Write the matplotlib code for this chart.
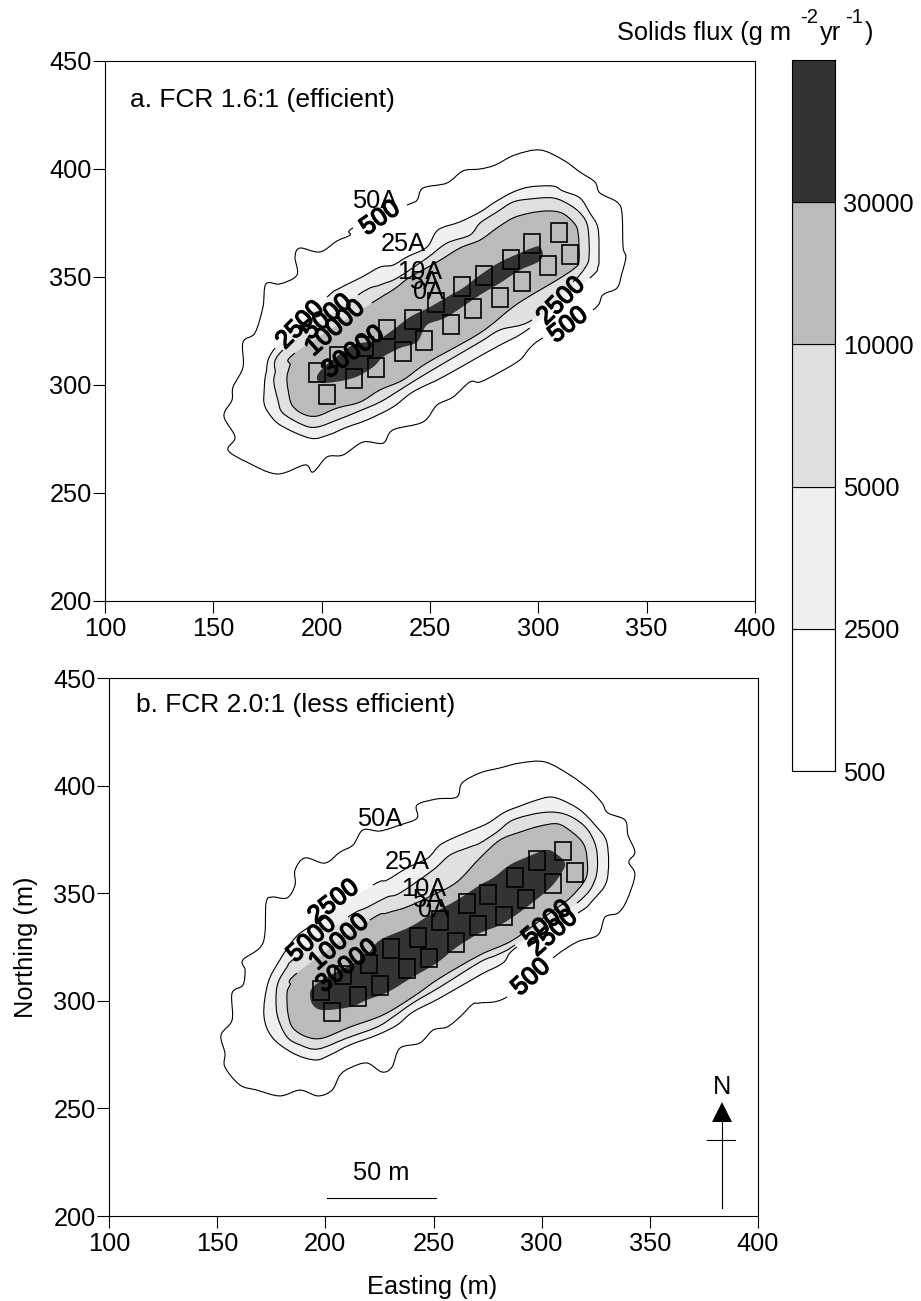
import numpy as np
import matplotlib
matplotlib.use('Agg')
import matplotlib.pyplot as plt
import matplotlib.patheffects as pe
from matplotlib.patches import Rectangle, PathPatch
from matplotlib.path import Path

plt.rcParams['font.family'] = ['Liberation Sans', 'DejaVu Sans']

W, H = 921, 1301
gap = (np.nan, np.nan)  # a break in the contour line, where its label sits

levels = [500, 2500, 5000, 10000, 30000]
level_colors = ['#ffffff', '#f0f0f0', '#e0e0e0', '#bbbbbb', '#333333']

# panel a, contours as (easting, northing)
a_500 = [(154.9, 285.6), (158.6, 293.0), (159.1, 299.1), (163.7, 308.3), (163.7, 319.9), (169.2, 324.1),
         (172.9, 336.1), (174.3, 346.8), (180.8, 346.8), (188.6, 350.9), (187.7, 359.3), (190.0, 363.4),
         (199.2, 361.6), (207.1, 366.7), (213.1, 369.4), (214.5, 372.7), gap, (239.4, 383.3), (244.0, 385.6),
         (246.8, 391.2), (257.8, 393.5), (265.2, 399.1), (273.1, 400.0), (280.0, 401.8), (289.2, 406.5),
         (300.8, 408.8), (311.4, 404.2), (319.2, 398.6), (326.1, 394.0), (328.4, 388.9), (336.3, 384.7),
         (338.6, 379.6), (339.1, 363.9), (340.4, 359.3), (338.6, 351.8), (336.3, 344.9), (329.8, 341.7),
         (325.2, 334.7), gap, (302.1, 321.8), (296.1, 317.1), (291.5, 311.6), (282.3, 306.0), (273.1, 301.4),
         (268.4, 301.4), (260.6, 294.4), (253.2, 290.7), (246.8, 282.9), (232.9, 279.2), (228.3, 273.1),
         (219.1, 273.6), (209.8, 267.6), (202.5, 266.7), (196.0, 259.7), (192.3, 263.0), (179.4, 258.8),
         (165.5, 264.3), (156.8, 269.9), (160.0, 275.9)]
a_2500 = [(173.4, 296.3), (174.3, 305.5), (178.5, 317.1), gap, (202.5, 340.7), (208.5, 344.9), (218.6, 350.0),
          (226.9, 354.6), (232.9, 355.5), (239.4, 359.3), (248.6, 363.9), (253.7, 371.8), (263.8, 375.5),
          (273.1, 380.1), (280.0, 384.7), (288.3, 389.3), (296.1, 391.7), (306.8, 392.1), (311.4, 389.8),
          (319.2, 386.6), (323.8, 379.6), (327.5, 372.7), (328.0, 359.3), (327.5, 354.6), (323.8, 349.5), gap,
          (296.1, 326.4), (282.3, 318.5), (273.1, 313.4), (256.0, 303.7), (242.1, 296.8), (232.9, 289.8),
          (220.9, 283.8), (211.7, 280.5), (202.9, 276.8), (194.6, 275.4), (180.8, 281.5), (175.2, 287.5),
          (173.4, 291.7)]
a_5000 = [(178.5, 305.5), (182.1, 316.2), gap, (216.8, 341.7), (226.9, 346.3), (234.8, 349.5), (248.6, 358.8),
          (257.8, 365.7), (268.4, 369.4), (273.1, 375.0), (280.9, 380.1), (288.3, 384.7), (296.1, 386.1),
          (306.8, 386.6), (314.6, 383.3), (320.1, 378.7), (322.9, 372.7), (323.4, 359.3), (321.5, 354.2),
          (316.0, 347.7), gap, (297.1, 330.1), (282.3, 325.5), (273.1, 319.9), (248.6, 305.5), (236.1, 297.7),
          (226.9, 292.1), (216.3, 287.5), (207.1, 283.8), (197.8, 280.5), (191.4, 281.5), (182.1, 287.0),
          (179.8, 293.0), (178.0, 300.9)]
a_10000 = [(184.0, 303.7), (185.4, 309.2), (187.7, 314.8), gap, (223.2, 338.0), (230.6, 342.6), (234.8, 345.4),
           (240.8, 350.0), (253.2, 356.9), (263.8, 363.4), (273.1, 367.1), (280.9, 372.7), (288.3, 377.3),
           (296.1, 379.6), (304.4, 380.6), (310.9, 379.6), (316.0, 375.5), (318.3, 370.8), (318.8, 357.9),
           (316.9, 354.2), (308.6, 348.6), (298.4, 342.6), (288.3, 336.1), (273.1, 324.1), (248.6, 310.2),
           (237.5, 302.3), (226.9, 297.7), (217.7, 292.1), (207.1, 289.3), (197.8, 285.6), (191.4, 286.6),
           (186.3, 290.7), (184.5, 297.7)]
a_30000 = [(197.8, 303.7), (200.6, 307.9), (206.1, 312.5), (214.5, 318.5), (225.5, 320.8), (232.9, 325.5),
           (240.8, 331.5), (250.0, 336.1), (257.8, 340.7), (265.2, 344.9), (273.1, 350.9), (282.3, 356.9),
           (291.5, 361.1), (298.4, 363.9), (300.8, 363.9), (302.1, 360.2), (299.8, 356.9), (291.5, 353.2),
           (282.3, 347.2), (273.1, 341.7), (257.8, 331.5), (248.6, 327.8), (244.0, 319.9), (236.1, 317.1),
           (228.3, 313.0), (223.7, 308.3), (214.5, 303.2), (200.6, 300.9)]

a_cage_e = [197.8, 207.5, 220.0, 230.1, 242.1, 252.8, 264.8, 274.9, 287.4, 297.1, 309.5,
            202.5, 214.9, 225.1, 237.5, 247.2, 259.7, 269.8, 282.3, 292.4, 304.4, 314.6]
a_cage_n = [306.0, 313.4, 317.6, 325.9, 330.5, 338.0, 345.4, 350.5, 358.3, 365.7, 370.8,
            295.8, 303.2, 308.3, 315.7, 320.4, 328.2, 335.6, 340.7, 348.1, 355.5, 360.6]

# text, easting, northing, rotation
a_flux_labels = [('500', 226.9, 377.3, 35), ('2500', 190.0, 327.8, 45), ('5000', 202.5, 331.5, 40),
                 ('10000', 206.1, 326.4, 42), ('30000', 214.5, 315.3, 37), ('2500', 310.4, 338.9, 45),
                 ('500', 313.7, 327.8, 38)]
a_zone_labels = [('50A', 224.6, 385.2), ('25A', 237.5, 365.3), ('10A', 245.4, 352.3), ('5A', 247.7, 347.7),
                 ('0A', 249.5, 343.0)]

# panel b
b_500 = [(151.8, 284.1), (156.9, 291.1), (156.9, 303.6), (161.9, 307.3), (162.9, 314.3), (161.9, 319.0),
         (171.2, 326.9), (172.6, 345.4), (175.3, 348.2), (182.3, 347.8), (186.0, 353.8), (186.0, 360.8),
         (190.6, 366.4), (199.8, 364.0), (206.8, 369.1), (212.8, 372.4), (217.4, 379.4), (225.3, 378.9),
         (234.5, 381.7), (242.4, 384.9), (242.4, 391.0), (251.6, 393.8), (260.8, 394.7), (263.2, 401.2),
         (271.5, 405.9), (280.7, 408.2), (290.0, 410.5), (301.5, 411.0), (313.1, 404.9), (322.3, 398.0),
         (327.9, 391.9), (330.6, 387.3), (338.5, 384.0), (339.9, 377.0), (343.1, 369.1), (340.3, 364.5),
         (343.1, 358.5), (339.4, 346.8), (335.3, 340.8), (329.3, 338.9), (326.0, 330.6), (316.3, 327.3),
         (305.2, 319.9), gap, (284.0, 301.8), (271.5, 299.0), (268.2, 298.5), (262.2, 292.5), (256.2, 287.8),
         (249.8, 286.4), (243.7, 280.4), (234.5, 278.0), (230.8, 269.2), (226.2, 266.9), (219.2, 271.1),
         (211.4, 268.8), (206.8, 265.5), (203.1, 258.5), (196.6, 255.8), (188.3, 258.5), (179.0, 255.8),
         (168.4, 258.5), (160.5, 260.9), (153.6, 269.2), (153.6, 275.7)]
b_2500 = [(171.6, 293.4), (173.5, 308.3), (179.0, 319.0), (186.0, 329.2), (193.8, 335.2), gap, (222.0, 353.8),
          (228.5, 356.1), (237.7, 361.7), (247.4, 366.4), (253.0, 372.4), (262.2, 377.0), (271.5, 380.8),
          (276.1, 383.1), (283.0, 387.7), (291.3, 391.0), (297.8, 393.3), (303.8, 394.7), (309.4, 393.3),
          (317.7, 388.7), (324.6, 381.7), (330.2, 373.3), (330.2, 356.1), (323.7, 346.8), (316.8, 340.8), gap,
          (288.6, 325.0), (282.1, 317.6), (271.5, 312.0), (253.0, 301.3), (240.5, 294.8), (233.1, 288.7),
          (223.9, 284.1), (211.4, 279.5), (202.1, 274.8), (195.2, 272.5), (185.0, 275.7), (175.3, 283.2)]
b_5000 = [(177.2, 300.4), (178.1, 308.3), (182.3, 315.7), (186.0, 319.9), gap, (210.5, 338.9), (219.7, 343.6),
          (228.5, 348.2), (234.5, 350.1), (249.8, 360.8), (257.6, 367.7), (266.9, 371.5), (271.5, 373.3),
          (279.3, 378.4), (286.7, 384.0), (299.2, 387.3), (308.5, 387.3), (316.3, 384.0), (322.3, 378.0),
          (325.6, 368.7), (324.6, 356.1), (316.3, 345.4), gap, (287.7, 325.9), (279.3, 321.3), (271.5, 318.0),
          (253.0, 306.4), (240.5, 299.0), (231.3, 292.5), (223.9, 287.8), (210.0, 282.7), (196.6, 277.6),
          (188.3, 279.5), (182.3, 283.2), (178.1, 292.0)]
b_10000 = [(182.3, 303.6), (183.7, 307.3), (186.9, 312.9), gap, (220.6, 337.5), (228.5, 340.8), (237.7, 343.6),
           (249.8, 349.2), (260.8, 355.2), (271.5, 366.4), (280.7, 374.7), (290.0, 378.4), (299.2, 381.2),
           (307.5, 382.2), (314.0, 378.4), (319.1, 373.3), (320.9, 366.8), (320.5, 357.1), (313.1, 347.8),
           (303.8, 340.8), (286.7, 328.2), (271.5, 321.3), (253.0, 310.6), (240.5, 301.8), (226.6, 293.4),
           (211.4, 287.8), (198.9, 282.7), (191.5, 283.2), (185.0, 287.4), (182.7, 294.3)]
b_30000 = [(192.9, 302.7), (194.3, 306.4), (200.8, 311.1), (211.4, 316.6), (219.2, 321.3), (225.3, 328.2),
           (239.1, 334.3), (249.8, 340.8), (260.8, 346.8), (271.5, 353.8), (277.5, 357.1), (285.3, 363.1),
           (293.2, 366.8), (302.4, 370.1), (307.5, 367.7), (310.8, 364.0), (309.4, 359.8), (303.8, 352.4),
           (291.3, 342.2), (280.7, 335.2), (271.5, 331.5), (260.8, 325.0), (251.6, 317.6), (240.5, 311.1),
           (229.0, 304.1), (219.2, 300.4), (211.4, 297.1), (198.9, 295.7), (194.3, 298.0)]

b_cage_e = [198.0, 208.2, 220.2, 230.3, 242.8, 253.0, 265.5, 275.2, 287.7, 297.8, 309.8,
            203.1, 215.1, 225.3, 237.7, 247.9, 260.4, 270.6, 282.6, 292.7, 305.2, 315.4]
b_cage_n = [305.0, 312.0, 317.1, 324.5, 329.6, 337.1, 345.0, 349.6, 357.5, 365.0, 369.6,
            294.8, 301.8, 306.9, 314.8, 319.9, 326.9, 334.8, 339.4, 347.3, 354.7, 359.8]

b_flux_labels = [('2500', 203.8, 346.0, 38), ('5000', 193.6, 328.7, 42), ('10000', 206.3, 327.3, 42),
                 ('30000', 210.0, 316.2, 38), ('5000', 302.4, 336.1, 40), ('2500', 305.2, 331.5, 42),
                 ('500', 295.0, 311.0, 42)]
b_zone_labels = [('50A', 225.3, 384.5), ('25A', 237.7, 364.5), ('10A', 245.6, 352.0), ('5A', 247.4, 346.9),
                 ('0A', 250.1, 342.3)]

FS = 18.3


def axes_box(left, top, right, bottom):
    return [left / W, 1 - bottom / H, (right - left) / W, (bottom - top) / H]


# rounded closed curve through the traced points, one path for the fill and one that skips the gaps
def contour_paths(pts):
    solid, breaks = [], set()
    for p in pts:
        if np.isnan(p[0]):
            breaks.add(len(solid) - 1)
        else:
            solid.append(p)
    P = np.array(solid)
    n = len(P)
    fill_v, fill_c = [P[0]], [Path.MOVETO]
    line_v, line_c = [P[0]], [Path.MOVETO]
    for i in range(n):
        c1 = P[i] + (P[(i + 1) % n] - P[i - 1]) / 6
        c2 = P[(i + 1) % n] - (P[(i + 2) % n] - P[i]) / 6
        end = P[(i + 1) % n]
        fill_v += [c1, c2, end]
        fill_c += [Path.CURVE4] * 3
        if i in breaks:
            line_v.append(end)
            line_c.append(Path.MOVETO)
        else:
            line_v += [c1, c2, end]
            line_c += [Path.CURVE4] * 3
    return Path(fill_v, fill_c), Path(line_v, line_c)


def draw_panel(ax, contours, cage_e, cage_n, flux_labels, zone_labels, title, title_pos):
    for pts, color, level in zip(contours, level_colors, levels):
        fill_path, line_path = contour_paths(pts)
        ax.add_patch(PathPatch(fill_path, fc=color, ec='none', zorder=2))
        if level < 30000:
            ax.add_patch(PathPatch(line_path, fc='none', ec='k', lw=0.8, zorder=3))

    for e, n in zip(cage_e, cage_n):
        ax.add_patch(Rectangle((e - 3.7, n - 4.4), 7.4, 8.8, fill=False, ec='k', lw=1.2, zorder=4))

    for text, e, n, rot in flux_labels:
        t = ax.text(e, n, text, fontsize=FS, rotation=rot, ha='center', va='center', zorder=5,
                    rotation_mode='anchor')
        t.set_path_effects([pe.withStroke(linewidth=1.0, foreground='k')])
    for text, e, n in zone_labels:
        ax.text(e, n, text, fontsize=FS, ha='center', va='center', zorder=5)

    ax.text(title_pos[0], title_pos[1], title, fontsize=19, ha='left', va='center')
    ax.set_xlim(100, 400)
    ax.set_ylim(200, 450)
    ax.set_xticks(range(100, 401, 50))
    ax.set_yticks(range(200, 451, 50))
    ax.tick_params(labelsize=FS, length=8.6, width=0.8, top=False, right=False)
    ax.tick_params(axis='x', pad=3)
    ax.tick_params(axis='y', pad=1)
    for s in ax.spines.values():
        s.set_linewidth(0.8)


fig = plt.figure(figsize=(W / 100, H / 100), dpi=100)

ax_a = fig.add_axes(axes_box(105, 61, 755, 601))
draw_panel(ax_a, [a_500, a_2500, a_5000, a_10000, a_30000], a_cage_e, a_cage_n,
           a_flux_labels, a_zone_labels, 'a. FCR 1.6:1 (efficient)', (111.5, 432))

ax_b = fig.add_axes(axes_box(109, 678, 758, 1216))
draw_panel(ax_b, [b_500, b_2500, b_5000, b_10000, b_30000], b_cage_e, b_cage_n,
           b_flux_labels, b_zone_labels, 'b. FCR 2.0:1 (less efficient)', (112.5, 437.5))
ax_b.set_xlabel('Easting (m)', fontsize=FS)
ax_b.xaxis.set_label_coords((432 - 109) / 649, -(1287 - 1216) / 538)
ax_b.xaxis.label.set_va('center')
ax_b.set_ylabel('Northing (m)', fontsize=FS)
ax_b.yaxis.set_label_coords(-(109 - 26) / 649, 0.5)
ax_b.yaxis.label.set_va('center')

# scale bar
ax_b.plot([201, 251], [208.4, 208.4], color='k', lw=0.8)
ax_b.text(226, 220, '50 m', fontsize=FS, ha='center', va='center')

# north arrow
ax_b.plot([383.5, 383.5], [203.7, 245], color='k', lw=0.8)
ax_b.plot([376.4, 389.3], [235.3, 235.3], color='k', lw=0.8)
ax_b.plot([383.5], [248.5], marker='^', ms=14, color='k', mew=0)
ax_b.text(383.5, 260, 'N', fontsize=FS, ha='center', va='center')

# flux key
ax_key = fig.add_axes(axes_box(792, 60, 835, 771))
for i, color in enumerate(level_colors):
    ax_key.bar(0.5, 1, width=1, bottom=i, color=color, ec='k', lw=0.8)
ax_key.set_xlim(0, 1)
ax_key.set_ylim(0, 5)
ax_key.set_xticks([])
ax_key.yaxis.tick_right()
ax_key.set_yticks(range(5))
ax_key.set_yticklabels([str(v) for v in levels], fontsize=FS)
ax_key.tick_params(axis='y', length=0, pad=6)
for s in ax_key.spines.values():
    s.set_linewidth(0.8)

# key title, in pieces so the exponents keep their hyphen and size
title_parts = [('Solids flux (g m', 617, 40, FS), ('-2', 800, 23, 14.6), ('yr', 820, 40, FS),
               ('-1', 845, 23, 14.6), (')', 865, 40, FS)]
for text, px, py, size in title_parts:
    fig.text(px / W, 1 - py / H, text, fontsize=size, ha='left', va='baseline')

fig.savefig('out.png', dpi=100)
